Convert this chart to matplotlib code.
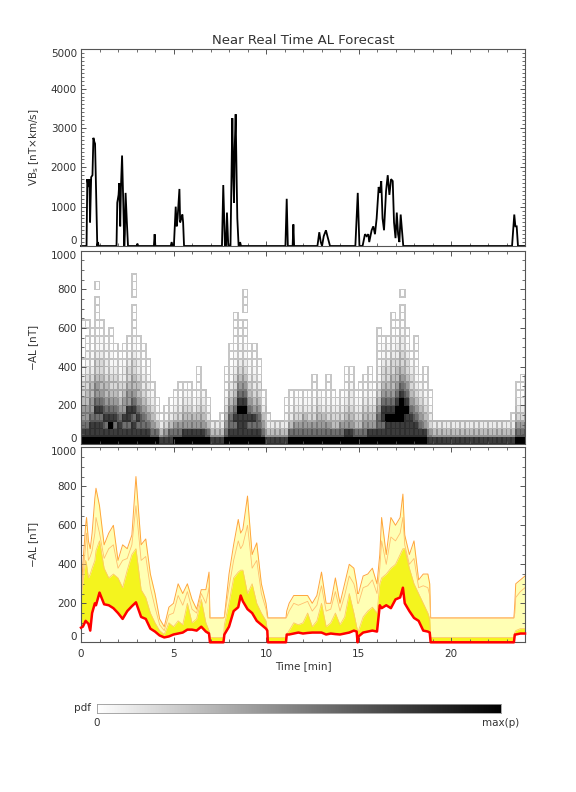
import numpy as np
import matplotlib
matplotlib.use('Agg')
import matplotlib.pyplot as plt
from matplotlib.ticker import MultipleLocator
from matplotlib.colors import PowerNorm

# ---------------- data ----------------
# Top panel: VBs [nT x km/s] vs time [min]
t_vbs = [0.0, 0.30, 0.34, 0.40, 0.45, 0.49, 0.55, 0.62, 0.67, 0.72, 0.76, 0.88, 0.92, 0.95,
         1.92, 1.96, 2.03, 2.07, 2.12, 2.16, 2.22, 2.28, 2.34, 2.37, 2.41, 2.48, 2.54,
         3.02, 3.05, 3.08, 3.94, 3.98, 4.02,
         4.85, 4.90, 4.95, 5.02, 5.12, 5.17, 5.22, 5.32, 5.36, 5.42, 5.48, 5.52, 5.57,
         7.62, 7.69, 7.78, 7.84, 7.89, 7.96, 8.08, 8.18, 8.23, 8.27, 8.31, 8.36, 8.42, 8.45, 8.52,
         8.58, 8.60, 8.65,
         11.05, 11.12, 11.18, 11.44, 11.48, 11.52,
         12.78, 12.88, 12.96, 13.03, 13.12, 13.24, 13.32, 13.46,
         14.83, 14.96, 15.05,
         15.22, 15.35, 15.44, 15.53, 15.58, 15.71, 15.80, 15.89, 15.98, 16.09, 16.16, 16.23, 16.30,
         16.38, 16.49, 16.58, 16.67, 16.76, 16.85, 16.92, 17.00, 17.07, 17.14, 17.21, 17.28, 17.35,
         17.42,
         23.30, 23.42, 23.48, 23.55, 23.62, 24.0]
vbs = [0, 0, 1700, 1500, 1700, 600, 1750, 1800, 2750, 2650, 2600, 0, 100, 0,
       0, 1100, 1300, 1600, 500, 1500, 2300, 1200, 0, 300, 1350, 600, 0,
       0, 60, 0, 0, 300, 0,
       0, 100, 0, 0, 1000, 500, 700, 1450, 600, 700, 800, 600, 0,
       0, 1550, 0, 0, 850, 0, 0, 3250, 1800, 1100, 2500, 3350, 1500, 700, 0,
       0, 100, 0,
       0, 1200, 0, 0, 550, 0,
       0, 350, 100, 0, 250, 400, 250, 0,
       0, 1350, 0,
       0, 300, 250, 300, 100, 400, 500, 300, 700, 1500, 1350, 1650, 700,
       400, 1400, 1800, 1300, 1700, 1650, 600, 200, 850, 300, 100, 800, 400,
       0,
       0, 800, 500, 500, 0, 0]

# Middle panel: pdf of -AL, one string per 0.25-min column, one digit per 40 nT bin
# (bottom bin first); 0 = empty, 9 = max(p)
pdf_columns = [
    "9876654432100001", "9876655443221101", "988766554322111", "988787665443221111101",
    "9887876554432211", "98787655433221", "989876544322111", "9878765443211",
    "988765443221", "9878665433211", "98788665443211", "9887876554432211110111",
    "98787655433211", "9877654332111", "98765433211", "97654321",
    "975321", "8531", "86421", "875321",
    "9764321", "97643211", "98654321", "98654321",
    "9865321", "9865432111", "9865432", "975321",
    "853", "853", "8531", "9765432111",
    "9877654322111", "98787654432211111", "9888987654322111", "98889876543221110111",
    "9878765432211", "9878654332111", "98776543211", "9765321",
    "8532", "853", "853", "853",
    "853211", "9753211", "9764321", "9764321",
    "9765321", "9764321", "976432111", "9765432",
    "9765321", "976432111", "9754321", "975432",
    "9764321", "9865432111", "9865433211", "9754321",
    "97543211", "976543211", "9865432211", "98654321",
    "987765432211111", "98788765443221", "98898765443221", "98898765544322111",
    "9889987655433211", "98899987654433211101", "988898765443211", "988876544321",
    "98876543221111", "987654321", "9865432111", "8643211",
    "853", "853", "853", "853", "853", "853", "853", "853", "853",
    "853", "853", "853", "853", "853", "853", "853", "853",
    "8531", "97643211", "976432111",
]

# Bottom panel: forecast quantiles of -AL [nT]
t_q = [0.0, 0.1, 0.25, 0.3, 0.4, 0.5, 0.6, 0.75, 0.81, 1.0, 1.25, 1.5, 1.75, 2.0, 2.25, 2.5,
       2.75, 2.97, 3.25, 3.5, 3.75, 4.0, 4.25, 4.5, 4.75, 5.0, 5.25, 5.5, 5.75, 6.0, 6.25, 6.5,
       6.75, 6.92, 6.97, 7.7, 7.75, 8.0, 8.25, 8.5, 8.63, 8.75, 9.0, 9.25, 9.5, 9.75, 10.0,
       10.07, 10.1, 11.08, 11.12, 11.25, 11.5, 11.75, 12.0, 12.25, 12.5, 12.75, 13.0, 13.25,
       13.5, 13.75, 14.0, 14.25, 14.5, 14.75, 14.9, 14.95, 15.0, 15.25, 15.5, 15.75, 16.0,
       16.15, 16.25, 16.5, 16.75, 17.0, 17.25, 17.4, 17.5, 17.75, 18.0, 18.25, 18.5, 18.75,
       18.85, 18.9, 23.4, 23.45, 23.5, 23.75, 24.0]
al_median = [75, 80, 110, 105, 95, 60, 150, 200, 190, 255, 195, 190, 175, 150, 120, 160,
             185, 205, 130, 120, 70, 55, 35, 25, 30, 40, 45, 50, 65, 65, 60, 80,
             55, 45, 0, 0, 40, 80, 160, 180, 240, 210, 170, 150, 110, 90, 70,
             60, 0, 0, 40, 40, 45, 50, 45, 48, 50, 50, 50, 40,
             45, 42, 40, 45, 50, 60, 55, 0, 30, 50, 55, 60, 55,
             190, 175, 190, 175, 220, 230, 280, 200, 160, 125, 110, 60, 55,
             50, 0, 0, 40, 40, 45, 45]
al_inner = [220, 300, 420, 400, 330, 350, 380, 420, 470, 520, 380, 330, 350, 330, 280, 370,
            450, 480, 270, 230, 150, 100, 60, 40, 100, 80, 110, 90, 200, 100, 120, 220,
            100, 60, 25, 25, 90, 200, 330, 360, 370, 370, 250, 300, 200, 150, 110,
            60, 25, 25, 40, 60, 100, 90, 100, 150, 80, 110, 200, 80,
            100, 150, 90, 130, 250, 150, 80, 60, 60, 130, 160, 180, 150,
            300, 330, 350, 380, 400, 450, 480, 480, 380, 300, 250, 200, 150,
            120, 25, 25, 50, 60, 70, 70]
al_mid = [220, 330, 500, 560, 420, 440, 470, 560, 640, 560, 430, 480, 500, 380, 420, 430,
          500, 700, 420, 440, 280, 180, 90, 60, 140, 150, 240, 190, 260, 170, 150, 250,
          200, 280, 125, 125, 128, 280, 420, 520, 480, 500, 600, 380, 420, 250, 170,
          130, 125, 125, 130, 160, 200, 190, 200, 210, 160, 190, 290, 160,
          170, 260, 160, 240, 340, 300, 240, 200, 200, 280, 290, 320, 250,
          380, 520, 400, 540, 520, 560, 640, 500, 400, 430, 280, 290, 280,
          240, 125, 125, 150, 230, 260, 280]
al_outer = [230, 400, 600, 640, 520, 480, 560, 740, 790, 700, 500, 560, 600, 420, 500, 480,
            550, 850, 500, 530, 350, 250, 120, 80, 180, 200, 300, 250, 300, 220, 170, 270,
            270, 360, 125, 125, 130, 350, 500, 630, 560, 580, 750, 450, 510, 300, 200,
            150, 125, 125, 160, 200, 240, 240, 240, 240, 200, 240, 360, 200,
            200, 330, 200, 300, 400, 380, 300, 250, 250, 340, 350, 380, 300,
            450, 640, 450, 640, 600, 640, 760, 550, 450, 520, 320, 350, 350,
            300, 125, 125, 200, 300, 320, 340]

# ---------------- style ----------------
TXT = '#333333'
TC = '#555555'
plt.rcParams['font.family'] = ['DejaVu Sans']

fig = plt.figure(figsize=(5.76, 7.92), dpi=100)
H = 792.0
L, W = 81 / 576, 444 / 576
ax1 = fig.add_axes([L, 1 - 246 / H, W, (246 - 49.3) / H])
ax2 = fig.add_axes([L, 1 - 444 / H, W, (444 - 250.7) / H])
ax3 = fig.add_axes([L, 1 - 642.3 / H, W, (642.3 - 447.3) / H])


def style(ax, ymax, ymaj, ymin, xlabels):
    ax.set_xlim(0, 24)
    ax.set_ylim(0, ymax)
    ax.set_xticks([0, 5, 10, 15, 20])
    ax.xaxis.set_minor_locator(MultipleLocator(1))
    ax.set_yticks(np.arange(0, ymax + 1, ymaj))
    ax.yaxis.set_minor_locator(MultipleLocator(ymin))
    ax.tick_params(which='both', direction='in', top=True, right=True, color=TC,
                   labelsize=7.5, labelcolor=TXT)
    ax.tick_params(which='major', length=3.8, width=0.7)
    ax.tick_params(which='minor', length=1.9, width=0.6)
    ax.tick_params(axis='y', pad=3)
    ax.tick_params(axis='x', pad=5)
    if not xlabels:
        ax.tick_params(axis='x', labelbottom=False)
    for s in ax.spines.values():
        s.set_color(TC)
        s.set_linewidth(0.8)
    ax.yaxis.set_label_coords(-0.091, 0.5)
    labs = ax.yaxis.get_majorticklabels()
    labs[0].set_va('bottom')
    labs[-1].set_va('top')


# top panel
ax1.plot(t_vbs, vbs, color='black', lw=1.3, solid_joinstyle='miter', clip_on=False)
style(ax1, 5000, 1000, 100, False)
ax1.set_ylabel(r'VB$_{\rm s}$ [nT$\times$km/s]', fontsize=7.5, color=TXT)

# middle panel
nb = 25
ncol = len(pdf_columns)
Z = np.zeros((nb, ncol))
for c, s in enumerate(pdf_columns):
    for b, ch in enumerate(s):
        Z[b, c] = int(ch)
xe = np.arange(ncol + 1) * 0.25
ye = np.arange(nb + 1) * 40.0
Zm = np.ma.masked_equal(Z, 0)
norm = PowerNorm(gamma=2.3, vmin=0, vmax=9)
coll = ax2.pcolor(xe, ye, Zm, cmap='gray_r', norm=norm)
vals = np.ma.compressed(np.ma.masked_equal(Z, 0))
face = plt.get_cmap('gray_r')(norm(vals))
edge = face.copy()
edge[:, :3] = face[:, :3] * 0.78
try:
    coll.set_edgecolor(edge)
    coll.set_linewidth(0.45)
except Exception:
    coll.set_edgecolor('#bbbbbb')
    coll.set_linewidth(0.3)
style(ax2, 1000, 200, 50, False)
ax2.set_ylabel(r'$-$AL [nT]', fontsize=7.5, color=TXT)

# bottom panel
ax3.fill_between(t_q, al_median, al_outer, color='#ffffb4', lw=0)
ax3.fill_between(t_q, al_median, al_inner, color='#f4f41e', lw=0)
ax3.plot(t_q, al_outer, color='#ffa53c', lw=0.7)
ax3.plot(t_q, al_mid, color='#ffbe6e', lw=0.6)
ax3.plot(t_q, al_inner, color='#ffc864', lw=0.6)
ax3.plot(t_q, al_median, color='#ff0000', lw=1.8, clip_on=False, zorder=5)
style(ax3, 1000, 200, 50, True)
ax3.set_ylabel(r'$-$AL [nT]', fontsize=7.5, color=TXT)
ax3.set_xlabel('Time [min]', fontsize=7.5, color=TXT, labelpad=1)

fig.text(303 / 576, 1 - 40 / H, 'Near Real Time AL Forecast', ha='center', va='center',
         fontsize=9.5, color=TXT)

# colour bar
cax = fig.add_axes([97 / 576, 1 - 713 / H, 404 / 576, 9 / H])
cax.imshow(np.linspace(0, 1, 256)[None, :], cmap='gray_r', aspect='auto',
           extent=[0, 1, 0, 1])
cax.set_xticks([])
cax.set_yticks([])
for s in cax.spines.values():
    s.set_color('#999999')
    s.set_linewidth(0.6)
fig.text(91 / 576, 1 - 708 / H, 'pdf', ha='right', va='center', fontsize=7.5, color=TXT)
fig.text(97 / 576, 1 - 723 / H, '0', ha='center', va='center', fontsize=7.5, color=TXT)
fig.text(501 / 576, 1 - 723 / H, 'max(p)', ha='center', va='center', fontsize=7.5, color=TXT)

fig.savefig('out.png', dpi=100)
